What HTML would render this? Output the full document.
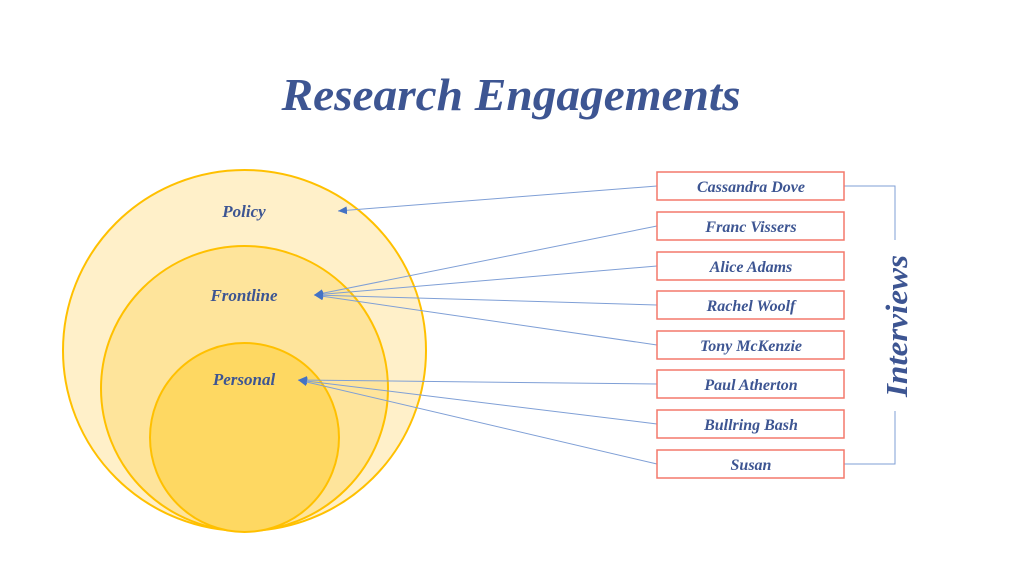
<!DOCTYPE html>
<html><head><meta charset="utf-8"><style>
html,body{margin:0;padding:0;background:#fff;}
svg{display:block;}
</style></head><body>
<svg width="1024" height="576" viewBox="0 0 1024 576" xmlns="http://www.w3.org/2000/svg">
<defs>
<marker id="ah" markerWidth="9" markerHeight="8" refX="9" refY="4" orient="auto" markerUnits="userSpaceOnUse">
<path d="M0,0 L9,4 L0,8 Z" fill="#4472c4"/>
</marker>
</defs>
<text x="511" y="110" text-anchor="middle" font-family="Liberation Serif, serif" font-weight="bold" font-style="italic" font-size="46" fill="#3d5592" textLength="459" lengthAdjust="spacingAndGlyphs">Research Engagements</text>

<ellipse cx="244.5" cy="350.5" rx="181.5" ry="180.5" fill="#fff0c9" stroke="#ffc000" stroke-width="2"/>
<ellipse cx="244.5" cy="388.5" rx="143.5" ry="142.5" fill="#fee49b" stroke="#ffc000" stroke-width="2"/>
<circle cx="244.5" cy="437.5" r="94.5" fill="#fed862" stroke="#ffc000" stroke-width="2"/>

<g font-family="Liberation Serif, serif" font-weight="bold" font-style="italic" fill="#3d5592" text-anchor="middle">
<text x="244" y="217" font-size="17">Policy</text>
<text x="244" y="301" font-size="17">Frontline</text>
<text x="244" y="385" font-size="17">Personal</text>
</g>

<g stroke="#7f9fd6" stroke-width="1" fill="none">
<line x1="657" y1="186" x2="338" y2="211" marker-end="url(#ah)"/>
<line x1="657" y1="226" x2="314" y2="295" marker-end="url(#ah)"/>
<line x1="657" y1="266" x2="314" y2="295" marker-end="url(#ah)"/>
<line x1="657" y1="305" x2="314" y2="295" marker-end="url(#ah)"/>
<line x1="657" y1="345" x2="314" y2="295" marker-end="url(#ah)"/>
<line x1="657" y1="384" x2="298" y2="380" marker-end="url(#ah)"/>
<line x1="657" y1="424" x2="298" y2="380" marker-end="url(#ah)"/>
<line x1="657" y1="464" x2="298" y2="380" marker-end="url(#ah)"/>
<polyline points="844,186 895,186 895,240"/>
<polyline points="895,411 895,464 844,464"/>
</g>

<g fill="#fff" stroke="#f4786b" stroke-width="1.5">
<rect x="657" y="172" width="187" height="28"/>
<rect x="657" y="212" width="187" height="28"/>
<rect x="657" y="252" width="187" height="28"/>
<rect x="657" y="291" width="187" height="28"/>
<rect x="657" y="331" width="187" height="28"/>
<rect x="657" y="370" width="187" height="28"/>
<rect x="657" y="410" width="187" height="28"/>
<rect x="657" y="450" width="187" height="28"/>
</g>
<g font-family="Liberation Serif, serif" font-weight="bold" font-style="italic" fill="#3d5592" text-anchor="middle" font-size="16">
<text x="751" y="192">Cassandra Dove</text>
<text x="751" y="232">Franc Vissers</text>
<text x="751" y="272">Alice Adams</text>
<text x="751" y="311">Rachel Woolf</text>
<text x="751" y="351">Tony McKenzie</text>
<text x="751" y="390">Paul Atherton</text>
<text x="751" y="430">Bullring Bash</text>
<text x="751" y="470">Susan</text>
</g>
<text x="0" y="0" transform="translate(907,326) rotate(-90)" text-anchor="middle" font-family="Liberation Serif, serif" font-weight="bold" font-style="italic" font-size="31" fill="#3d5592" textLength="142" lengthAdjust="spacingAndGlyphs">Interviews</text>
</svg>
</body></html>
